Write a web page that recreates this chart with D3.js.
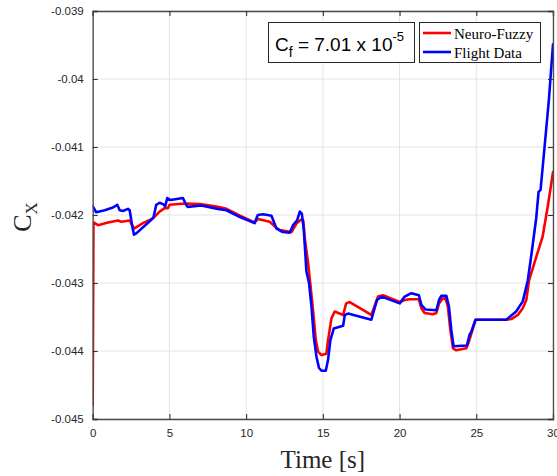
<!DOCTYPE html>
<html>
<head>
<meta charset="utf-8">
<script src="https://cdn.jsdelivr.net/npm/d3@7"></script>
<style>
  html, body { margin: 0; padding: 0; background: #fff; }
  svg { display: block; }
</style>
</head>
<body>
<svg id="chart" width="557" height="476"></svg>
<script>
// Neuro-Fuzzy model output, time [s]
const nfTime = [0, 0.05, 0.35, 1.0, 1.65, 1.86, 2.41, 2.69, 3.27, 3.93, 4.36, 4.69, 4.90, 5.01, 5.99, 6.99, 8.16, 8.72, 9.6,
  10.55, 10.76, 11.54, 11.93, 12.19, 12.96, 13.30, 13.56, 13.72, 13.82, 14.04, 14.19, 14.36, 14.54, 14.69, 14.91, 15.23,
  15.34, 15.56, 15.77, 16.32, 16.52, 16.75, 18.16, 18.59, 18.92, 20.01, 20.33, 20.66, 21.26, 21.42, 21.63, 22.17, 22.40,
  22.57, 22.79, 23.00, 23.15, 23.31, 23.48, 23.70, 24.35, 24.52, 24.67, 24.95, 26.95, 27.28, 27.71, 28.03, 28.26, 28.44,
  28.93, 29.32, 29.64, 30];
// Neuro-Fuzzy model output, C_X
const nfCx = [-0.04479, -0.04211, -0.04215, -0.04211, -0.04208, -0.04210, -0.04208, -0.04220, -0.04212, -0.04205, -0.04195,
  -0.04190, -0.04190, -0.04185, -0.04183, -0.04184, -0.04188, -0.04191, -0.04201,
  -0.04211, -0.04206, -0.04210, -0.04218, -0.04222, -0.04225, -0.04212, -0.04207, -0.04208, -0.04234, -0.04271, -0.04303,
  -0.04340, -0.04384, -0.04401, -0.04406, -0.04404,
  -0.04384, -0.04352, -0.04342, -0.04347, -0.04330, -0.04328, -0.04347, -0.04320, -0.04318, -0.04328, -0.04325, -0.04324,
  -0.04324, -0.04337, -0.04344, -0.04346, -0.04344,
  -0.04330, -0.04323, -0.04323, -0.04335, -0.04369, -0.04396, -0.04399, -0.04396, -0.04386, -0.04375, -0.04354, -0.04354,
  -0.04353, -0.04347, -0.04337, -0.04325, -0.04296,
  -0.04260, -0.04232, -0.04190, -0.04137];

// Flight data, time [s]
const fdTime = [0, 0.23, 0.78, 1.32, 1.60, 1.76, 1.97, 2.30, 2.41, 2.58, 2.69, 2.84, 3.82, 3.97, 4.14, 4.36, 4.58, 4.73, 4.86,
  5.08, 5.88, 6.09, 6.20, 7.07, 8.16, 8.72, 9.6, 10.55, 10.76, 11.11, 11.65, 11.98, 12.39, 12.84, 13.06, 13.32, 13.50, 13.63,
  13.76, 13.93, 14.10, 14.26, 14.41, 14.58, 14.75, 14.91, 15.19, 15.34, 15.49, 15.71, 16.32, 16.43, 16.64, 18.16, 18.53,
  18.82, 20.01, 20.33, 20.77, 21.26, 21.42, 21.70, 22.40, 22.57, 22.72, 23.05, 23.22, 23.37, 23.52, 24.39, 24.56, 24.67,
  24.95, 26.95, 27.60, 28.03, 28.36, 28.60, 28.91, 29.06, 29.19, 29.45, 29.73, 30];
// Flight data, C_X
const fdCx = [-0.04187, -0.04196, -0.04193, -0.04189, -0.04185, -0.04193, -0.04194, -0.04191, -0.04193, -0.04217, -0.04229,
  -0.04227, -0.04207, -0.04203, -0.04185, -0.04182, -0.04184, -0.04187, -0.04175,
  -0.04178, -0.04175, -0.04185, -0.04188, -0.04186, -0.04191, -0.04193, -0.04203, -0.04212, -0.04200, -0.04199, -0.04201,
  -0.04220, -0.04225, -0.04226, -0.04215, -0.04208, -0.04195, -0.04198,
  -0.04222, -0.04283, -0.04300, -0.04335, -0.04379, -0.04408, -0.04425, -0.04429, -0.04429, -0.04413, -0.04384, -0.04367,
  -0.04363, -0.04347, -0.04345, -0.04354, -0.04325,
  -0.04320, -0.04330, -0.04320, -0.04315, -0.04318, -0.04332, -0.04339, -0.04340, -0.04325, -0.04319, -0.04319, -0.04335,
  -0.04369, -0.04393, -0.04392, -0.04376, -0.04372,
  -0.04354, -0.04354, -0.04342, -0.04327, -0.04296, -0.04257, -0.04204, -0.04166, -0.04163, -0.04100, -0.04031, -0.03949];

const xTicks = [0, 5, 10, 15, 20, 25, 30];
const yTicks = [-0.045, -0.044, -0.043, -0.042, -0.041, -0.04, -0.039];
const yTickLabels = ["-0.045", "-0.044", "-0.043", "-0.042", "-0.041", "-0.04", "-0.039"];
const seriesNames = ["Neuro-Fuzzy", "Flight Data"];
const seriesColors = ["#ff0000", "#0000ff"];

const plot = { left: 92.7, right: 553, top: 11, bottom: 419 };
const svg = d3.select("#chart");
const x = d3.scaleLinear().domain([0, 30]).range([plot.left, plot.right]);
const y = d3.scaleLinear().domain([-0.045, -0.039]).range([plot.bottom, plot.top]);

const sans = "'Liberation Sans', Arial, Helvetica, sans-serif";
const serif = "'Liberation Serif', 'Times New Roman', serif";
const axisColor = "#262626";

// grid
const grid = svg.append("g");
grid.selectAll("line.gx").data(xTicks).join("line").attr("class", "gx")
  .attr("x1", d => x(d)).attr("x2", d => x(d)).attr("y1", plot.top).attr("y2", plot.bottom)
  .attr("stroke", "#e3e3e3").attr("stroke-width", 1);
grid.selectAll("line.gy").data(yTicks).join("line").attr("class", "gy")
  .attr("x1", plot.left).attr("x2", plot.right).attr("y1", d => y(d)).attr("y2", d => y(d))
  .attr("stroke", "#e3e3e3").attr("stroke-width", 1);

// series
svg.append("clipPath").attr("id", "plotClip").append("rect")
  .attr("x", plot.left).attr("y", plot.top).attr("width", plot.right - plot.left).attr("height", plot.bottom - plot.top);
const line = d3.line().x(d => x(d[0])).y(d => y(d[1]));
const series = [d3.zip(nfTime, nfCx), d3.zip(fdTime, fdCx)];
svg.append("g").attr("clip-path", "url(#plotClip)")
  .selectAll("path").data(series).join("path")
  .attr("d", line).attr("fill", "none")
  .attr("stroke", (d, i) => seriesColors[i]).attr("stroke-width", 2.6)
  .attr("stroke-linejoin", "round").attr("stroke-linecap", "round");

// axes (inward ticks, boxed)
const tickLen = 5;
const gxB = svg.append("g").attr("transform", `translate(0,${plot.bottom})`)
  .call(d3.axisBottom(x).tickValues(xTicks).tickSize(-tickLen).tickPadding(10).tickFormat(d3.format("d")));
const gxT = svg.append("g").attr("transform", `translate(0,${plot.top})`)
  .call(d3.axisTop(x).tickValues(xTicks).tickSize(-tickLen).tickFormat(""));
const gyL = svg.append("g").attr("transform", `translate(${plot.left},0)`)
  .call(d3.axisLeft(y).tickValues(yTicks).tickSize(-tickLen).tickPadding(9).tickFormat((d, i) => yTickLabels[i]));
const gyR = svg.append("g").attr("transform", `translate(${plot.right},0)`)
  .call(d3.axisRight(y).tickValues(yTicks).tickSize(-tickLen).tickFormat(""));
[gxB, gxT, gyL, gyR].forEach(g => {
  g.select(".domain").attr("stroke", "#4a4a4a").attr("stroke-width", 1.3);
  g.selectAll(".tick line").attr("stroke", "#333").attr("stroke-width", 1.1);
  g.selectAll(".tick text").attr("fill", axisColor).attr("font-family", sans).attr("font-size", "11.5px");
});

// axis labels
svg.append("text").attr("x", (plot.left + plot.right) / 2).attr("y", 468)
  .attr("text-anchor", "middle").attr("font-family", serif).attr("font-size", "25px").attr("fill", axisColor)
  .text("Time [s]");
const yl = svg.append("text").attr("transform", "translate(31,217) rotate(-90)")
  .attr("text-anchor", "middle").attr("font-family", serif).attr("fill", axisColor);
yl.append("tspan").attr("font-size", "26px").text("C");
yl.append("tspan").attr("font-size", "17px").attr("dy", 6).text("X");

// annotation box
svg.append("rect").attr("x", 268.5).attr("y", 22.5).attr("width", 146).attr("height", 40)
  .attr("fill", "#fff").attr("stroke", axisColor).attr("stroke-width", 1);
const ann = svg.append("text").attr("x", 275).attr("y", 51).attr("font-family", sans).attr("fill", "#000");
ann.append("tspan").attr("font-size", "19px").text("C");
ann.append("tspan").attr("font-size", "14px").attr("dy", 6).text("f");
ann.append("tspan").attr("font-size", "19px").attr("dy", -6).text(" = 7.01 x 10");
ann.append("tspan").attr("font-size", "13px").attr("dy", -10).text("-5");

// legend
svg.append("rect").attr("x", 419.5).attr("y", 22.5).attr("width", 121).attr("height", 40)
  .attr("fill", "#fff").attr("stroke", axisColor).attr("stroke-width", 1);
const leg = svg.append("g").selectAll("g").data(seriesNames).join("g")
  .attr("transform", (d, i) => `translate(0,${33 + i * 19})`);
leg.append("line").attr("x1", 423).attr("x2", 451).attr("y1", 0).attr("y2", 0)
  .attr("stroke", (d, i) => seriesColors[i]).attr("stroke-width", 2.6);
leg.append("text").attr("x", 454).attr("y", 5.5).attr("font-family", serif).attr("font-size", "15px")
  .attr("fill", "#000").text(d => d);
</script>
</body>
</html>
